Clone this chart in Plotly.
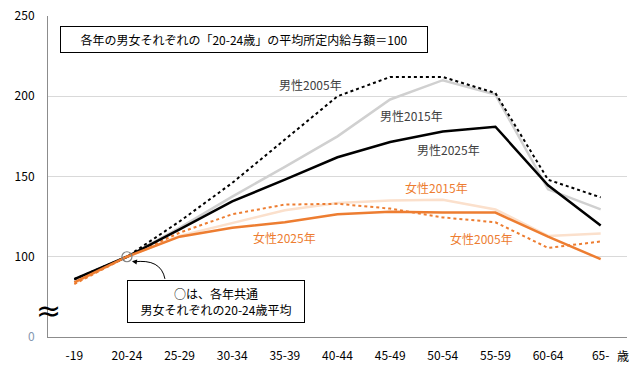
import plotly.graph_objects as go

# age groups and index values (20-24 = 100)
ages = ["-19", "20-24", "25-29", "30-34", "35-39", "40-44", "45-49", "50-54", "55-59", "60-64", "65-"]
male_2005 = [86, 100, 122, 146, 173, 200, 212, 212, 202, 148, 137]
male_2015 = [85.5, 100, 118, 137.5, 156, 175, 198, 210, 201, 142, 129.5]
male_2025 = [86, 100, 117, 134.5, 148, 162, 171.5, 178, 181, 144.5, 119.5]
female_2005 = [83, 100, 115, 126.5, 132.5, 133, 130, 124.5, 121.5, 105.5, 109.5]
female_2015 = [83.5, 100, 113, 121, 129, 133.5, 135, 135.5, 129.5, 113, 114.5]
female_2025 = [84, 100, 112.5, 118, 121.5, 126.5, 128, 127.5, 127.5, 112.5, 98.5]

y_ticks = [50, 100, 150, 200, 250]
y_labels = ['<span style="color:#8497b0">0</span>', "100", "150", "200", "250"]

ORANGE = "#ed7d31"
LIGHT_ORANGE = "#fbe0cc"
FONT = "Noto Sans CJK JP"

fig = go.Figure()

series = [
    (male_2015, "#d0d0d0", "solid", 2.5),
    (female_2015, LIGHT_ORANGE, "solid", 2.5),
    (male_2005, "black", "dot", 2),
    (female_2005, ORANGE, "dot", 2),
    (male_2025, "black", "solid", 2.5),
    (female_2025, ORANGE, "solid", 2.5),
]
for vals, color, dash, w in series:
    fig.add_trace(go.Scatter(x=ages, y=vals, mode="lines",
                             line=dict(color=color, dash=dash, width=w),
                             showlegend=False, hoverinfo="skip"))

# common base point marker
fig.add_trace(go.Scatter(x=["20-24"], y=[100], mode="markers",
                         marker=dict(symbol="circle-open", size=10, color="#7f7f7f", line=dict(width=1.2)),
                         showlegend=False, hoverinfo="skip"))

labels = [
    ("男性2005年", 4.48, 207.5, "#404040"),
    ("男性2015年", 6.40, 188, "#404040"),
    ("男性2025年", 7.10, 167, "#404040"),
    ("女性2015年", 6.89, 143.2, ORANGE),
    ("女性2025年", 4.0, 112, ORANGE),
    ("女性2005年", 7.74, 111.4, ORANGE),
]
for text, x, y, color in labels:
    fig.add_annotation(x=x, y=y, text=text, showarrow=False,
                       font=dict(size=12, color=color, family=FONT))

# top note box
fig.add_annotation(x=0.0207, y=0.969, xref="paper", yref="paper", xanchor="left", yanchor="top",
                   text="各年の男女それぞれの「20-24歳」の平均所定内給与額＝100",
                   showarrow=False, bordercolor="black", borderwidth=1, borderpad=4,
                   width=358, align="center", font=dict(size=12, color="black", family=FONT))

# callout box
fig.add_annotation(x=0.136, y=0.178, xref="paper", yref="paper", xanchor="left", yanchor="top",
                   text="○は、各年共通<br>男女それぞれの20-24歳平均",
                   showarrow=False, bordercolor="black", borderwidth=1, borderpad=4,
                   width=168, bgcolor="white", align="center",
                   font=dict(size=12, color="black", family=FONT))

# curved arrow to the base point
fig.add_shape(type="path", xref="paper", yref="paper",
              path="M 0.202,0.181 Q 0.195,0.245 0.148,0.234",
              line=dict(color="black", width=1))
fig.add_annotation(x=0.145, y=0.236, ax=6, ay=1, xref="paper", yref="paper",
                   text="", showarrow=True,
                   arrowhead=2, arrowsize=1, arrowwidth=1, arrowcolor="black")

# axis break mark
fig.add_annotation(x=0.0, y=0.081, xref="paper", yref="paper", xanchor="center", yanchor="middle",
                   text="≈", showarrow=False,
                   font=dict(size=30, color="black", family="DejaVu Sans"))

# unit
fig.add_annotation(x=10.42, y=-0.059, xref="x", yref="paper", yanchor="middle", text="歳",
                   showarrow=False, font=dict(size=12, color="black", family=FONT))

fig.update_xaxes(type="category", range=[-0.5, 10.5], showline=True, linecolor="#8c8c8c",
                 linewidth=1, showgrid=False, ticks="outside", ticklen=0, automargin=False,
                 ticklabelstandoff=8, ticklabeloverflow="allow",
                 tickfont=dict(size=12, color="black", family=FONT))
fig.update_yaxes(range=[50, 250], tickvals=y_ticks, ticktext=y_labels, showline=True,
                 linecolor="#8c8c8c", linewidth=1, gridcolor="#d9d9d9", gridwidth=1,
                 zeroline=False, ticks="outside", ticklen=0, ticklabelstandoff=10, automargin=False,
                 ticklabeloverflow="allow", tickfont=dict(size=12, color="black", family=FONT))

fig.update_layout(width=644, height=372, margin=dict(l=48, r=17, t=16, b=35),
                  plot_bgcolor="white", paper_bgcolor="white",
                  font=dict(family=FONT))

# drop the default page margin so the figure fills the window
fig.write_html("out.html", config={"displayModeBar": False},
               post_script="document.body.style.margin='0';")
